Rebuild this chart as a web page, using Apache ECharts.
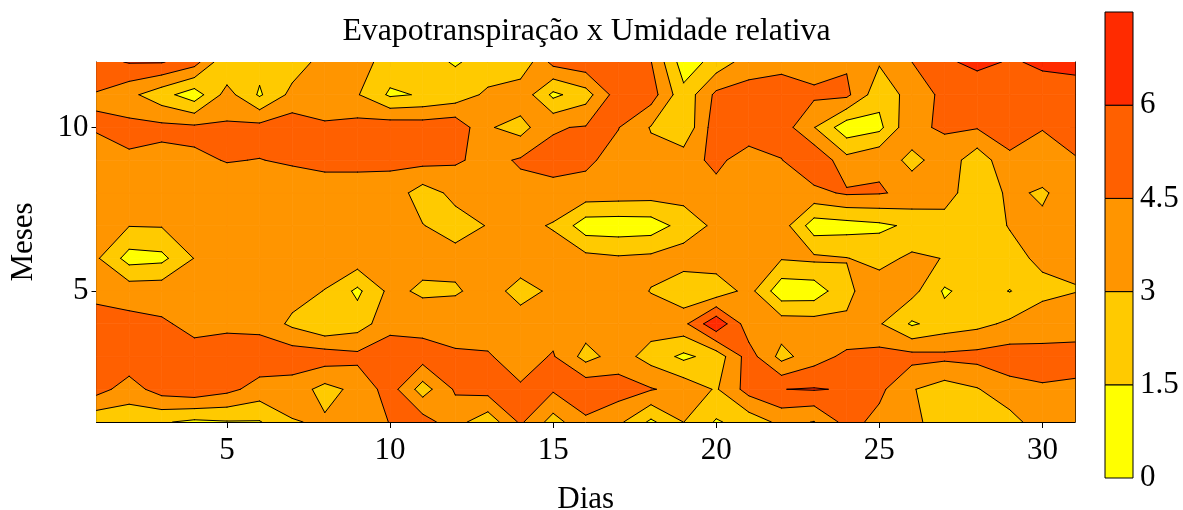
<!DOCTYPE html>
<html><head><meta charset="utf-8">
<style>html,body{margin:0;padding:0;background:#fff}#c{width:1183px;height:510px}</style>
<script src="https://cdn.jsdelivr.net/npm/echarts@6/dist/echarts.min.js"></script>
</head><body><div id="c"></div>
<script>
const titleText = 'Evapotranspiração x Umidade relativa';
const xName = 'Dias', yName = 'Meses';
const xTicks = [5,10,15,20,25,30];
const yTicks = [5,10];
const levels = [0,1.5,3,4.5,6,7.5];
const levelTicks = [0,1.5,3,4.5,6];
const colors = ['#FFFF00','#FFCA00','#FF9500','#FF6000','#FF2B00'];
const days = [1,2,3,4,5,6,7,8,9,10,11,12,13,14,15,16,17,18,19,20,21,22,23,24,25,26,27,28,29,30,31];
const months = [1,2,3,4,5,6,7,8,9,10,11,12];
const m1  = [1.85,2.05,1.65,1.2,1.4,1.4,2.9,3.2,3.6,4.55,5.2,3.55,2.05,4.75,2.37,4.2,3.35,1.2,3.02,1.35,2.1,3.4,2.95,5.05,4.05,3.4,2.2,2.5,2.4,3.9,3.6];
const m2  = [5.09,3.8,5.2,5.6,4.92,3.9,3.8,2.5,3.4,5.2,2.3,4.7,5.1,4.67,4.71,5.65,5.18,4.6,4.0,2.85,5.1,5.98,6.1,5.87,4.85,3.1,2.3,2.9,4.0,4.45,4.3];
const m3  = [5.5,5.55,5.2,4.9,5.5,5.5,5.4,5.35,4.9,5.6,5.2,4.6,4.62,3.9,4.62,2.45,3.7,2.4,1.17,2.1,5.2,2.5,3.85,4.85,5.05,5.0,4.86,5.0,5.25,4.7,4.9];
const m4  = [5.4,4.9,4.65,4.2,4.1,4.0,2.7,1.6,2.3,3.9,3.95,4.2,3.9,3.8,3.9,3.8,3.8,3.7,4.1,7.2,3.6,3.82,3.7,3.2,3.15,1.3,2.2,2.6,3.27,4.2,4.0];
const m5  = [3.9,3.9,3.95,3.8,3.8,3.8,3.6,2.95,1.18,3.4,2.75,2.8,3.7,2.4,3.3,3.5,3.7,2.95,1.8,2.0,3.55,0.5,0.6,2.7,3.9,3.5,1.3,2.2,1.45,2.45,2.95];
const m6  = [3.2,0.9,1.1,3.05,3.8,3.8,3.8,3.8,3.9,3.9,3.5,3.53,3.8,3.9,3.85,3.48,3.2,3.37,3.8,3.9,3.9,3.1,3.3,3.05,2.5,3.3,2.95,2.3,2.4,3.4,3.19];
const m7  = [3.7,3.05,3.1,3.6,3.8,3.8,3.8,3.8,3.7,3.6,3.05,2.4,3.07,3.5,2.85,0.65,0.6,0.7,2.08,3.36,3.6,3.76,0.7,0.9,1.2,1.77,2.3,2.0,3.1,3.3,3.8];
const m8  = [3.7,3.75,3.8,3.8,3.9,3.9,3.8,3.8,3.8,3.9,2.3,3.4,3.9,4.04,4.19,3.9,3.8,3.7,3.6,3.95,3.6,3.7,4.1,4.7,4.6,4.2,3.7,1.95,3.3,2.8,3.8];
const m9  = [4.0,4.27,4.0,4.3,4.55,4.47,4.65,4.9,4.9,4.8,5.0,4.7,4.03,4.67,4.84,4.8,3.9,3.5,3.8,4.9,3.67,4.45,5.8,3.5,4.3,2.4,4.0,2.06,4.2,4.0,4.36];
const m10 = [4.6,4.95,4.9,4.8,4.72,5.0,5.35,4.7,5.07,5.47,5.35,5.6,3.15,2.4,4.4,4.6,4.55,2.9,1.8,5.4,5.6,5.3,3.05,0.55,1.1,4.3,4.63,4.6,5.2,4.55,5.3];
const m11 = [4.4,3.4,2.07,0.65,3.6,1.3,3.45,3.7,3.11,1.26,1.63,2.1,3.33,4.1,1.15,2.35,5.3,5.2,1.95,4.85,5.1,5.33,4.8,4.85,1.97,3.63,4.87,5.2,5.5,5.6,5.4];
const m12 = [5.5,6.1,6.1,5.14,1.6,2.0,2.2,3.58,3.6,2.4,1.9,1.4,1.9,1.8,5.0,5.5,5.5,4.55,0.7,2.05,3.78,4.0,3.8,4.3,3.15,4.5,5.8,6.3,5.9,6.15,6.4];
const z = [m1,m2,m3,m4,m5,m6,m7,m8,m9,m10,m11,m12];

const FONT = 'Liberation Serif';
const chart = echarts.init(document.getElementById('c'), null, {renderer:'canvas'});

const cells = [];
for (let j=0;j<months.length-1;j++) for (let i=0;i<days.length-1;i++)
  cells.push([days[i],months[j],z[j][i],z[j][i+1],z[j+1][i+1],z[j+1][i]]);

function corners(v){ const x=v[0],y=v[1];
  return [{x:x,y:y,z:v[2]},{x:x+1,y:y,z:v[3]},{x:x+1,y:y+1,z:v[4]},{x:x,y:y+1,z:v[5]}]; }
function lerp(a,b,l){ const t=(l-a.z)/(b.z-a.z); return [a.x+(b.x-a.x)*t,a.y+(b.y-a.y)*t,t]; }

function bandPolys(c,lo,hi){
  const inBand=z=>z>=lo&&z<hi;
  const center=(c[0].z+c[1].z+c[2].z+c[3].z)/4;
  let runs=[],cur=null;
  const close=(gap)=>{ if(cur){cur.gap=gap;runs.push(cur);cur=null;} };
  for(let k=0;k<4;k++){
    const a=c[k],b=c[(k+1)%4];
    const ps=[[a.x,a.y,0,a.z]];
    const cr=[];
    for(const l of [lo,hi]) if((a.z<l)!==(b.z<l)){const p=lerp(a,b,l);cr.push([p[0],p[1],p[2],l]);}
    cr.sort((p,q)=>p[2]-q[2]);
    ps.push(...cr); ps.push([b.x,b.y,1,b.z]);
    for(let s=0;s<ps.length-1;s++){
      const m=(ps[s][3]+ps[s+1][3])/2;
      if(inBand(m)){
        if(!cur){cur=[];cur.push([ps[s][0],ps[s][1]]);}
        cur.push([ps[s+1][0],ps[s+1][1]]);
      } else close(m);
    }
  }
  if(cur){
    if(runs.length){ const f=runs[0]; const g=f.gap; const merged=cur.concat(f.slice(1)); merged.gap=g; runs[0]=merged; }
    else { return [cur]; }
  }
  if(runs.length<=1) return runs;
  if(inBand(center)) return [[].concat(...runs)];
  const splitAt=k=>center>=hi ? runs[k].gap>=hi : runs[k].gap<lo;
  let start=-1;
  for(let k=0;k<runs.length;k++) if(splitAt(k)){start=(k+1)%runs.length;break;}
  if(start<0) return [[].concat(...runs)];
  const out=[]; let chain=[];
  for(let n=0;n<runs.length;n++){
    const k=(start+n)%runs.length;
    chain=chain.concat(runs[k]);
    if(splitAt(k)){out.push(chain);chain=[];}
  }
  return out;
}
function contourSegs(c,l){
  const e=[];
  for(let k=0;k<4;k++){const a=c[k],b=c[(k+1)%4];
    e.push((a.z<l)!==(b.z<l)?lerp(a,b,l):null);}
  const h=e.filter(Boolean);
  if(h.length===2) return [[h[0],h[1]]];
  if(h.length===4){
    const center=(c[0].z+c[1].z+c[2].z+c[3].z)/4;
    if((center>=l)===(c[0].z>=l)) return [[e[0],e[1]],[e[2],e[3]]];
    return [[e[3],e[0]],[e[1],e[2]]];
  }
  return [];
}
function val(api,n){ const v=[]; for(let i=0;i<n;i++) v.push(api.value(i)); return v; }

const fillSeries={type:'custom',xAxisIndex:0,yAxisIndex:0,clip:true,silent:true,z:2,animation:false,
  data:cells,encode:{x:0,y:1},
  renderItem(p,api){
    const c=corners(val(api,6)); const ch=[];
    for(let b=0;b<colors.length;b++){
      const top=b===colors.length-1?Infinity:levels[b+1];
      for(const poly of bandPolys(c,levels[b],top)){
        if(poly.length<3) continue;
        ch.push({type:'polygon',shape:{points:poly.map(q=>api.coord(q))},
          style:{fill:colors[b],stroke:colors[b],lineWidth:0.7}});
      }
    }
    return {type:'group',children:ch};
  }};
const lineSeries={type:'custom',xAxisIndex:0,yAxisIndex:0,clip:true,silent:true,z:3,animation:false,
  data:cells,encode:{x:0,y:1},
  renderItem(p,api){
    const c=corners(val(api,6)); const ch=[];
    for(let b=1;b<levels.length-1;b++){
      for(const s of contourSegs(c,levels[b])){
        ch.push({type:'line',shape:{x1:api.coord(s[0])[0],y1:api.coord(s[0])[1],x2:api.coord(s[1])[0],y2:api.coord(s[1])[1]},
          style:{stroke:'#000',lineWidth:1,lineCap:'round',fill:null}});
      }
    }
    return {type:'group',children:ch};
  }};
const barData=colors.map((c,i)=>[levels[i],levels[i+1]]);
const keySeries={type:'custom',xAxisIndex:2,yAxisIndex:2,silent:true,z:2,animation:false,
  data:barData,encode:{y:[0,1]},
  renderItem(p,api){
    const a=api.coord([0,api.value(0)]),b=api.coord([1,api.value(1)]);
    return {type:'rect',shape:{x:a[0],y:b[1],width:b[0]-a[0],height:a[1]-b[1]},
      style:{fill:colors[p.dataIndex],stroke:'#000',lineWidth:1}};
  }};

const blackLine={show:true,onZero:false,lineStyle:{color:'#000',width:1}};
chart.setOption({
  animation:false,
  backgroundColor:'#fff',
  title:{text:titleText,left:581.5,top:11,textAlign:'center',
    textStyle:{fontFamily:FONT,fontSize:31.8,fontWeight:'normal',color:'#000'}},
  grid:[
    {left:96.5,top:62,width:978.5,height:360,containLabel:false,outerBoundsMode:'none'},
    {left:1105,top:12,width:28,height:466,containLabel:false,outerBoundsMode:'none'}
  ],
  xAxis:[
    {type:'value',gridIndex:0,min:1,max:31,position:'bottom',axisLine:blackLine,splitLine:{show:false},
     name:xName,nameLocation:'middle',nameGap:62,nameTextStyle:{fontFamily:FONT,fontSize:31,color:'#000'},
     axisTick:{show:true,length:6,inside:false,customValues:xTicks,lineStyle:{color:'#000'}},
     axisLabel:{customValues:xTicks,fontFamily:FONT,fontSize:31,color:'#000',margin:13}},
    {type:'value',gridIndex:0,min:1,max:31,position:'top',axisLine:blackLine,splitLine:{show:false},
     axisTick:{show:true,length:5,inside:true,customValues:xTicks,lineStyle:{color:'#000'}},
     axisLabel:{show:false}},
    {type:'value',gridIndex:1,min:0,max:1,show:false,splitLine:{show:false}}
  ],
  yAxis:[
    {type:'value',gridIndex:0,min:1,max:12,position:'left',axisLine:blackLine,splitLine:{show:false},
     name:yName,nameLocation:'middle',nameGap:57,nameRotate:90,nameTextStyle:{fontFamily:FONT,fontSize:31,color:'#000'},
     axisTick:{show:true,length:5,inside:false,customValues:yTicks,lineStyle:{color:'#000'}},
     axisLabel:{customValues:yTicks,fontFamily:FONT,fontSize:31,color:'#000',margin:8,padding:[2,0,0,0]}},
    {type:'value',gridIndex:0,min:1,max:12,position:'right',axisLine:blackLine,splitLine:{show:false},
     axisTick:{show:true,length:5,inside:true,customValues:yTicks,lineStyle:{color:'#000'}},
     axisLabel:{show:false}},
    {type:'value',gridIndex:1,min:0,max:7.5,position:'right',axisLine:{show:false},splitLine:{show:false},
     axisTick:{show:false},
     axisLabel:{customValues:levelTicks,formatter:v=>String(v),fontFamily:FONT,fontSize:31,color:'#000',margin:7,padding:[4,0,0,0]}}
  ],
  series:[fillSeries,lineSeries,keySeries]
});
</script></body></html>
